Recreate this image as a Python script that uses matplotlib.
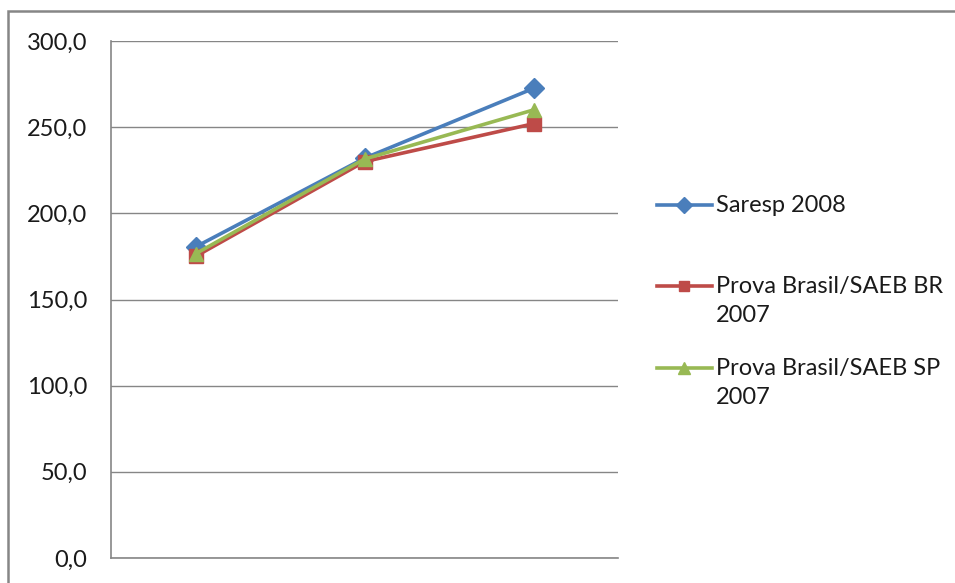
import numpy as np
import matplotlib.pyplot as plt
from matplotlib.lines import Line2D
from matplotlib.patches import Rectangle
from matplotlib.ticker import FuncFormatter, MultipleLocator

plt.rcParams['font.family'] = ['Lato', 'DejaVu Sans']

# --- données ---
etapas = ['5º ano', '9º ano', '3ª série EM']
saresp_2008 = [180.5, 232.0, 272.5]
saeb_br_2007 = [175.0, 230.0, 252.0]
saeb_sp_2007 = [176.5, 231.5, 260.0]

series = [
    ('Saresp 2008', saresp_2008, '#4A7EBB', 'D', 10),
    ('Prova Brasil/SAEB BR\n2007', saeb_br_2007, '#BE4B48', 's', 9.5),
    ('Prova Brasil/SAEB SP\n2007', saeb_sp_2007, '#98B954', '^', 10.5),
]

W, H = 955, 583
fig = plt.figure(figsize=(W / 100, H / 100), dpi=100)
ax = fig.add_axes([111 / W, 25 / H, 507 / W, 517 / H])

x = np.arange(len(etapas))
for nome, vals, cor, mk, ms in series:
    ax.plot(x, vals, color=cor, lw=2.6, marker=mk, markersize=ms,
            markerfacecolor=cor, markeredgecolor=cor, zorder=3)

ax.set_xlim(-0.5, len(etapas) - 0.5)
ax.set_ylim(0, 300)
ax.yaxis.set_major_locator(MultipleLocator(50))
ax.yaxis.set_major_formatter(FuncFormatter(lambda v, p: f'{v:.1f}'.replace('.', ',')))
ax.set_xticks([])
ax.tick_params(axis='y', length=0, pad=17, labelsize=17, labelcolor='#1a1a1a')
ax.grid(axis='y', color='#868686', lw=1)
for s in ['top', 'right']:
    ax.spines[s].set_visible(False)
for s in ['left', 'bottom']:
    ax.spines[s].set_color('#868686')
    ax.spines[s].set_linewidth(1.2)

# moldura externa do gráfico (sem borda à direita)
fig.add_artist(Rectangle((8 / W, -0.05), 1.0, 1.05 - 11 / H,
                         transform=fig.transFigure, fill=False,
                         edgecolor='#868686', lw=1.8))

# legenda desenhada à direita
leg_y = [205, 286, 368]
for (nome, vals, cor, mk, ms), yy in zip(series, leg_y):
    fy = 1 - yy / H
    fig.add_artist(Line2D([657 / W, 712 / W], [fy, fy], transform=fig.transFigure,
                          color=cor, lw=2.6))
    fig.add_artist(Line2D([684 / W], [fy], transform=fig.transFigure, color=cor,
                          marker=mk, markersize=ms - 2, markerfacecolor=cor,
                          markeredgecolor=cor))
    fig.text(716 / W, fy + 10 / H, nome, ha='left', va='top', fontsize=17,
             color='#1a1a1a', linespacing=1.45)

fig.savefig('out.png', dpi=100)
